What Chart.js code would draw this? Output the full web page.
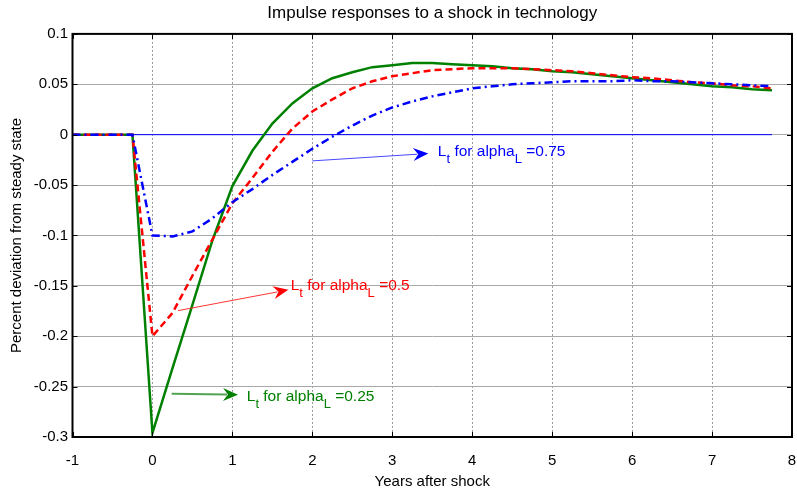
<!DOCTYPE html>
<html>
<head>
<meta charset="utf-8">
<script src="https://cdn.jsdelivr.net/npm/chart.js@4.4.1/dist/chart.umd.min.js"></script>
<style>
html, body { margin: 0; padding: 0; background: #fff; }
</style>
</head>
<body>
<canvas id="irf" width="797" height="492"></canvas>
<script>
// quarterly horizon, years after the shock
var years = [-1, -0.75, -0.5, -0.25, 0, 0.25, 0.5, 0.75, 1, 1.25, 1.5, 1.75, 2, 2.25, 2.5, 2.75,
    3, 3.25, 3.5, 3.75, 4, 4.25, 4.5, 4.75, 5, 5.25, 5.5, 5.75, 6, 6.25, 6.5, 6.75, 7, 7.25, 7.5, 7.75];

var lAlpha075 = [0, 0, 0, 0, -0.1, -0.101, -0.096, -0.083, -0.067, -0.054, -0.040, -0.027, -0.014, -0.002, 0.009, 0.019,
    0.027, 0.033, 0.038, 0.042, 0.046, 0.048, 0.050, 0.051, 0.052, 0.053, 0.053, 0.053, 0.054, 0.053, 0.053, 0.052, 0.051, 0.050, 0.049, 0.048];
var lAlpha05 = [0, 0, 0, 0, -0.2, -0.177, -0.14, -0.104, -0.068, -0.043, -0.017, 0.006, 0.023, 0.035, 0.046, 0.053,
    0.058, 0.061, 0.064, 0.065, 0.066, 0.066, 0.066, 0.065, 0.064, 0.063, 0.061, 0.059, 0.057, 0.056, 0.054, 0.052, 0.051, 0.049, 0.048, 0.046];
var lAlpha025 = [0, 0, 0, 0, -0.296, -0.232, -0.169, -0.105, -0.051, -0.016, 0.011, 0.031, 0.046, 0.056, 0.062, 0.067,
    0.069, 0.071, 0.071, 0.070, 0.069, 0.068, 0.066, 0.065, 0.063, 0.062, 0.060, 0.058, 0.056, 0.054, 0.052, 0.050, 0.048, 0.047, 0.045, 0.044];

var zeroLineX = [-1, 7.75];
var zeroLineY = [0, 0];

var xTicks = [-1, 0, 1, 2, 3, 4, 5, 6, 7, 8];
var yTicks = [0.1, 0.05, 0, -0.05, -0.1, -0.15, -0.2, -0.25, -0.3];
var yTickLabels = ['0.1', '0.05', '0', '-0.05', '-0.1', '-0.15', '-0.2', '-0.25', '-0.3'];

// text arrows, in data units: tail, tip, text start
var notes = [
    { alpha: '0.75', color: '#0000ff', stroke: 'rgba(40,40,255,0.85)', width: 1, tail: [2.0, -0.026], tip: [3.45, -0.0187], at: [3.57, -0.0214] },
    { alpha: '0.5', color: '#ff0000', stroke: 'rgba(255,30,30,0.9)', width: 1, tail: [0.32, -0.1746], tip: [1.70, -0.154], at: [1.73, -0.154] },
    { alpha: '0.25', color: '#008000', stroke: 'rgba(40,140,40,0.8)', width: 2, tail: [0.24, -0.257], tip: [1.07, -0.258], at: [1.18, -0.2645] }
];

var fontFam = '"Liberation Sans", Arial, Helvetica, sans-serif';

function pts(xs, ys) {
    return xs.map(function (x, i) { return { x: x, y: ys[i] }; });
}

function arrowHead(ctx, x0, y0, x1, y1, color) {
    var ang = Math.atan2(y1 - y0, x1 - x0);
    ctx.save();
    ctx.translate(x1, y1);
    ctx.rotate(ang);
    ctx.beginPath();
    ctx.moveTo(0, 0);
    ctx.lineTo(-15, -6.5);
    ctx.lineTo(-10, 0);
    ctx.lineTo(-15, 6.5);
    ctx.closePath();
    ctx.fillStyle = color;
    ctx.fill();
    ctx.restore();
}

var framePlugin = {
    id: 'frame',
    afterDatasetsDraw: function (chart) {
        var ctx = chart.ctx, a = chart.chartArea;
        var xs = chart.scales.x, ys = chart.scales.y;
        ctx.save();
        ctx.strokeStyle = '#000';
        ctx.lineWidth = 1;
        ctx.beginPath();
        xTicks.forEach(function (v) {
            var px = Math.round(xs.getPixelForValue(v)) + 0.5;
            ctx.moveTo(px, a.bottom); ctx.lineTo(px, a.bottom - 5);
            ctx.moveTo(px, a.top); ctx.lineTo(px, a.top + 5);
        });
        yTicks.forEach(function (v) {
            var py = Math.round(ys.getPixelForValue(v)) + 0.5;
            ctx.moveTo(a.left, py); ctx.lineTo(a.left + 5, py);
            ctx.moveTo(a.right, py); ctx.lineTo(a.right - 5, py);
        });
        ctx.stroke();
        ctx.lineWidth = 2;
        ctx.strokeRect(a.left, a.top, a.right - a.left, a.bottom - a.top);

        // annotations
        notes.forEach(function (n) {
            var x0 = xs.getPixelForValue(n.tail[0]), y0 = ys.getPixelForValue(n.tail[1]);
            var x1 = xs.getPixelForValue(n.tip[0]), y1 = ys.getPixelForValue(n.tip[1]);
            var ang = Math.atan2(y1 - y0, x1 - x0);
            ctx.strokeStyle = n.stroke;
            ctx.lineWidth = n.width;
            ctx.beginPath();
            ctx.moveTo(x0, y0);
            ctx.lineTo(x1 - 11 * Math.cos(ang), y1 - 11 * Math.sin(ang));
            ctx.stroke();
            arrowHead(ctx, x0, y0, x1, y1, n.color);

            var tx = xs.getPixelForValue(n.at[0]), ty = ys.getPixelForValue(n.at[1]);
            var big = '15.5px ' + fontFam, small = '13px ' + fontFam;
            ctx.fillStyle = n.color;
            ctx.textBaseline = 'alphabetic';
            ctx.textAlign = 'left';
            var parts = [['L', big, 0], ['t', small, 7], [' for alpha', big, 0], ['L', small, 7], [' =' + n.alpha, big, 0]];
            parts.forEach(function (p) {
                ctx.font = p[1];
                ctx.fillText(p[0], tx, ty + p[2]);
                tx += ctx.measureText(p[0]).width;
            });
        });
        ctx.restore();
    }
};

var chart = new Chart(document.getElementById('irf'), {
    type: 'line',
    data: {
        datasets: [
            { label: 'alphaL=0.75', data: pts(years, lAlpha075), borderColor: '#0000ff', borderWidth: 2.5, borderDash: [8, 4, 2, 4] },
            { label: 'alphaL=0.5', data: pts(years, lAlpha05), borderColor: '#ff0000', borderWidth: 2.5, borderDash: [7, 4] },
            { label: 'alphaL=0.25', data: pts(years, lAlpha025), borderColor: '#008000', borderWidth: 2.5 },
            { label: 'zero', data: pts(zeroLineX, zeroLineY), borderColor: '#0000ff', borderWidth: 1 }
        ]
    },
    options: {
        responsive: false,
        animation: false,
        parsing: true,
        elements: { point: { radius: 0 }, line: { tension: 0, fill: false } },
        layout: { padding: { left: 0, right: 5, top: 0, bottom: 0 } },
        plugins: {
            legend: { display: false },
            tooltip: { enabled: false },
            title: {
                display: true,
                fullSize: false,
                text: 'Impulse responses to a shock in technology',
                color: '#000',
                font: { family: fontFam, size: 17, weight: 'normal' },
                padding: { top: 3.5, bottom: 10 }
            }
        },
        scales: {
            x: {
                type: 'linear',
                min: -1, max: 8,
                afterBuildTicks: function (s) { s.ticks = xTicks.map(function (v) { return { value: v }; }); },
                afterFit: function (s) { s.height = 55; s.paddingLeft = 0; s.paddingRight = 0; },
                ticks: { color: '#000', font: { family: fontFam, size: 15 }, padding: 14.5, maxRotation: 0, autoSkip: false,
                    callback: function (v) { return String(v); } },
                grid: { color: '#999999', lineWidth: 1, drawTicks: false },
                border: { display: false, dash: [2, 2] },
                title: { display: true, text: 'Years after shock', color: '#000', font: { family: fontFam, size: 15 }, padding: { top: 0, bottom: 1.5 } }
            },
            y: {
                min: -0.3, max: 0.1,
                afterBuildTicks: function (s) { s.ticks = yTicks.map(function (v) { return { value: v }; }); },
                afterFit: function (s) { s.width = 72.5; s.paddingTop = 0; s.paddingBottom = 0; },
                ticks: { color: '#000', font: { family: fontFam, size: 15 }, padding: 4.5,
                    callback: function (v) { var i = yTicks.indexOf(v); return i >= 0 ? yTickLabels[i] : ''; } },
                grid: { color: '#a8a8a8', lineWidth: 1, drawTicks: false },
                border: { display: false },
                title: { display: true, text: 'Percent deviation from steady state', color: '#000', font: { family: fontFam, size: 15 }, padding: { top: 8, bottom: 0 } }
            }
        }
    },
    plugins: [framePlugin]
});
</script>
</body>
</html>
